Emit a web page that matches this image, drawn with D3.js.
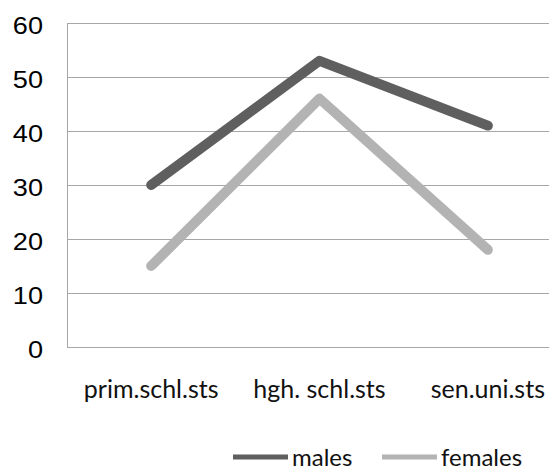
<!DOCTYPE html>
<html><head><meta charset="utf-8">
<script src="https://cdn.jsdelivr.net/npm/d3@7"></script>
<style>body{margin:0;background:#fff}svg{display:block}</style>
</head><body>
<script>
const categories = ["prim.schl.sts", "hgh. schl.sts", "sen.uni.sts"];
const males = [30, 53, 41];
const females = [15, 46, 18];
const yTicks = [0, 10, 20, 30, 40, 50, 60];
const seriesNames = ["males", "females"];
const seriesColors = ["#5f5f5f", "#b3b3b3"];

const W = 549, H = 471;
const mLeft = 67, mTop = 23, mBottom = 347, mRight = 572;
const svg = d3.select("body").append("svg").attr("width", W).attr("height", H);

const x = d3.scaleBand().domain(categories).range([mLeft, mRight]);
const y = d3.scaleLinear().domain([0, 60]).range([mBottom, mTop]);

// gridlines
svg.append("g").selectAll("line").data(yTicks).join("line")
  .attr("x1", mLeft).attr("x2", mRight)
  .attr("y1", d => Math.round(y(d)) + 0.5).attr("y2", d => Math.round(y(d)) + 0.5)
  .attr("stroke", "#a6a6a6").attr("stroke-width", 1);
svg.append("line").attr("x1", mLeft + 0.5).attr("x2", mLeft + 0.5)
  .attr("y1", mTop).attr("y2", mBottom + 1).attr("stroke", "#a6a6a6");

// y labels
svg.append("g").selectAll("text").data(yTicks).join("text")
  .attr("transform", d => `translate(43,${y(d) + 10.5}) scale(1.18,1)`)
  .attr("text-anchor", "end")
  .style("font-family", "Liberation Sans, Arial, sans-serif").style("font-size", "23px")
  .attr("fill", "#000").text(d => d);

// x labels
svg.append("g").selectAll("text").data(categories).join("text")
  .attr("x", d => x(d) + x.bandwidth() / 2).attr("y", 398)
  .attr("text-anchor", "middle")
  .style("font-family", "Lato, 'Open Sans', sans-serif").style("font-size", "25px")
  .attr("fill", "#111").text(d => d);

const line = d3.line().x((d, i) => x(categories[i]) + x.bandwidth() / 2).y(d => y(d));
[males, females].forEach((s, k) => {
  svg.append("path").datum(s).attr("d", line).attr("fill", "none")
    .attr("stroke", seriesColors[k]).attr("stroke-width", 10)
    .attr("stroke-linecap", "round").attr("stroke-linejoin", "round");
});

// legend
const legX = [233, 382];
seriesNames.forEach((n, k) => {
  svg.append("line").attr("x1", legX[k]).attr("x2", legX[k] + 55)
    .attr("y1", 457).attr("y2", 457)
    .attr("stroke", seriesColors[k]).attr("stroke-width", 5);
  svg.append("text").attr("x", legX[k] + 59).attr("y", 466)
    .style("font-family", "Lato, 'Open Sans', sans-serif").style("font-size", "24px")
    .attr("fill", "#111").text(n);
});
</script>
</body></html>
